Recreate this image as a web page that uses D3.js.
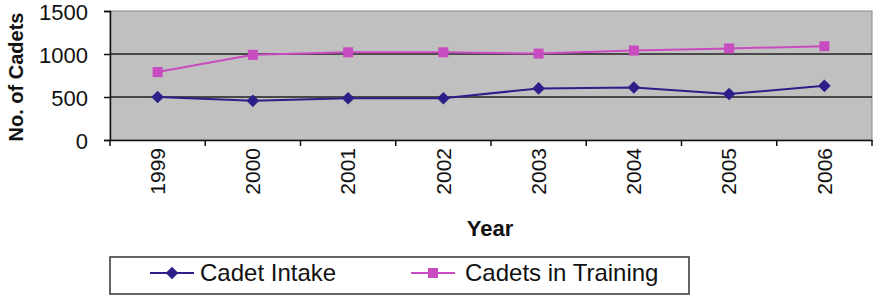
<!DOCTYPE html>
<html><head><meta charset="utf-8">
<script src="https://cdn.jsdelivr.net/npm/d3@7"></script>
<style>body{margin:0;background:#fff;} text{font-family:"Liberation Sans",Arial,sans-serif;}</style>
</head><body>
<svg id="c" width="874" height="296"></svg>
<script>
const years = ["1999","2000","2001","2002","2003","2004","2005","2006"];
const cadetIntake = [500, 455, 485, 485, 600, 610, 535, 630];
const cadetsInTraining = [790, 990, 1020, 1020, 1005, 1040, 1065, 1090];
const yTicks = [0, 500, 1000, 1500];
const seriesNames = ["Cadet Intake", "Cadets in Training"];

const svg = d3.select("#c");
const L = 110, R = 872, T = 11, B = 140;
const x = d3.scaleBand().domain(years).range([L, R]);
const y = d3.scaleLinear().domain([0, 1500]).range([B, T]);

svg.append("rect").attr("x", L).attr("y", T).attr("width", R - L).attr("height", B - T)
  .attr("fill", "#c0c0c0").attr("stroke", "#8a8a8a").attr("stroke-width", 1);

svg.append("g").selectAll("line").data(yTicks.filter(d => d > 0 && d < 1500)).join("line")
  .attr("x1", L).attr("x2", R).attr("y1", d => y(d)).attr("y2", d => y(d))
  .attr("stroke", "#222").attr("stroke-width", 1.5);

const yAxis = svg.append("g").attr("transform", `translate(${L},0)`)
  .call(d3.axisLeft(y).tickValues(yTicks).tickFormat(d3.format("d")).tickSize(6).tickPadding(16));
yAxis.select(".domain").attr("stroke", "#111").attr("stroke-width", 1.5);
yAxis.selectAll(".tick line").attr("stroke", "#111").attr("stroke-width", 1.5);
yAxis.selectAll("text").attr("font-size", 22).attr("fill", "#111").attr("dy", "0.38em")
  .attr("font-family", "Liberation Sans, Arial, sans-serif");

const xAxis = svg.append("g").attr("transform", `translate(0,${B})`)
  .call(d3.axisBottom(x).tickSize(0).tickPadding(0));
xAxis.select(".domain").attr("stroke", "#111").attr("stroke-width", 1.5);
const bounds = years.map(d => x(d)).concat([R]);
svg.append("g").selectAll("line").data(bounds).join("line")
  .attr("x1", d => d).attr("x2", d => d).attr("y1", B).attr("y2", B + 6)
  .attr("stroke", "#111").attr("stroke-width", 1.5);
xAxis.selectAll("text")
  .attr("font-size", 21).attr("fill", "#111")
  .attr("font-family", "Liberation Sans, Arial, sans-serif")
  .attr("text-anchor", "end")
  .attr("transform", "translate(0,8) rotate(-90)")
  .attr("x", 0).attr("y", 0).attr("dy", "0.35em");

svg.append("text").attr("x", 490).attr("y", 236).attr("text-anchor", "middle")
  .attr("font-size", 22).attr("font-weight", "bold").attr("fill", "#111").text("Year");
svg.append("text").attr("transform", "translate(23,77) rotate(-90)").attr("text-anchor", "middle")
  .attr("font-size", 20).attr("font-weight", "bold").attr("fill", "#111").text("No. of Cadets");

const colors = ["#2d1f8a", "#c84cc0"];
const series = [cadetIntake, cadetsInTraining];
const cx = d => x(d) + x.bandwidth() / 2;
const line = d3.line().x((v, i) => cx(years[i])).y(v => y(v));
const markerSize = [80, 100];
const markerRot = [45, 0];

series.forEach((vals, si) => {
  svg.append("path").datum(vals).attr("d", line).attr("fill", "none")
    .attr("stroke", colors[si]).attr("stroke-width", 2);
  svg.append("g").selectAll("path").data(vals).join("path")
    .attr("d", d3.symbol().type(d3.symbolSquare).size(markerSize[si]))
    .attr("transform", (v, i) => `translate(${cx(years[i])},${y(v)}) rotate(${markerRot[si]})`)
    .attr("fill", colors[si]);
});

svg.append("rect").attr("x", 110).attr("y", 257).attr("width", 579).attr("height", 37)
  .attr("fill", "#fff").attr("stroke", "#333").attr("stroke-width", 1.5);
const legendPos = [{lx: 150, tx: 200}, {lx: 411, tx: 465}];
seriesNames.forEach((name, si) => {
  const p = legendPos[si];
  svg.append("line").attr("x1", p.lx).attr("x2", p.lx + 44).attr("y1", 273).attr("y2", 273)
    .attr("stroke", colors[si]).attr("stroke-width", 2);
  svg.append("path")
    .attr("d", d3.symbol().type(d3.symbolSquare).size(markerSize[si]))
    .attr("transform", `translate(${p.lx + 22},273) rotate(${markerRot[si]})`).attr("fill", colors[si]);
  svg.append("text").attr("x", p.tx).attr("y", 273).attr("dy", "0.35em")
    .attr("font-size", 24).attr("fill", "#111").text(name);
});
</script>
</body></html>
